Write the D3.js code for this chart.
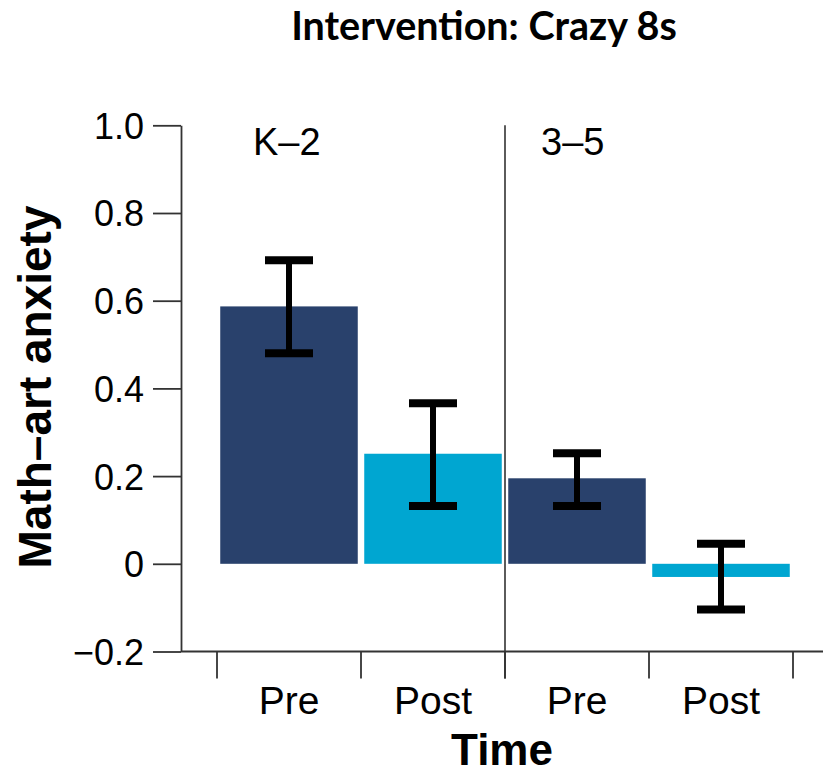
<!DOCTYPE html>
<html>
<head>
<meta charset="utf-8">
<script src="https://cdn.jsdelivr.net/npm/d3@7"></script>
<style>
  body { margin: 0; background: #fff; }
  svg text { font-family: "Liberation Sans", Arial, sans-serif; }
</style>
</head>
<body>
<div id="chart"></div>
<script>
// data
const groups = ["K\u20132", "3\u20135"];
const times = ["Pre", "Post", "Pre", "Post"];
const means = [0.587, 0.251, 0.195, -0.03];
const errLow = [0.480, 0.132, 0.132, -0.104];
const errHigh = [0.692, 0.366, 0.252, 0.046];
const yTicks = [-0.2, 0, 0.2, 0.4, 0.6, 0.8, 1.0];
const barColors = ["#29416c", "#00a6d1", "#29416c", "#00a6d1"];

const width = 827, height = 774;
const svg = d3.select("#chart").append("svg")
    .attr("width", width).attr("height", height);

const y = d3.scaleLinear().domain([-0.2, 1.0]).range([651.5, 125.3]);
const x = d3.scaleBand()
    .domain(d3.range(means.length))
    .range([217, 793])
    .paddingInner(0.045)
    .paddingOuter(0.0225);
const step = x.step();
const edge = i => 217 + i * step;   // boundaries between the bars

// title
svg.append("text")
    .attr("x", 484).attr("y", 40)
    .attr("text-anchor", "middle")
    .style("font-family", "Lato, 'Open Sans', sans-serif")
    .style("font-weight", "bold")
    .style("font-size", "39.5px")
    .text("Intervention: Crazy 8s");

// y axis
const yAxis = d3.axisLeft(y)
    .tickValues(yTicks)
    .tickSize(28)
    .tickSizeOuter(0)
    .tickPadding(9)
    .tickFormat(d => d === 0 ? "0" : d3.format(".1f")(d));
const gy = svg.append("g").attr("transform", "translate(181,0)").call(yAxis);
gy.select(".domain").attr("stroke", "#333").attr("stroke-width", 1.8);
gy.selectAll(".tick line").attr("stroke", "#333").attr("stroke-width", 1.8);
gy.selectAll(".tick text")
    .style("font-size", "36px")
    .attr("fill", "#000")
    .attr("dy", "0.36em");

// x axis baseline and boundary ticks
svg.append("line")
    .attr("x1", 181).attr("x2", 823)
    .attr("y1", y(-0.2)).attr("y2", y(-0.2))
    .attr("stroke", "#333").attr("stroke-width", 1.8);
svg.selectAll(".xtick")
    .data(d3.range(means.length + 1))
    .enter().append("line")
    .attr("class", "xtick")
    .attr("x1", d => edge(d)).attr("x2", d => edge(d))
    .attr("y1", y(-0.2)).attr("y2", y(-0.2) + 27)
    .attr("stroke", "#333").attr("stroke-width", 1.8);

// separator between groups
svg.append("line")
    .attr("x1", edge(2)).attr("x2", edge(2))
    .attr("y1", y(1.0)).attr("y2", y(-0.2) + 27)
    .attr("stroke", "#333").attr("stroke-width", 1.6);

// bars
svg.selectAll(".bar")
    .data(means)
    .enter().append("rect")
    .attr("class", "bar")
    .attr("x", (d, i) => x(i))
    .attr("width", x.bandwidth())
    .attr("y", d => y(Math.max(0, d)))
    .attr("height", d => Math.abs(y(d) - y(0)))
    .attr("fill", (d, i) => barColors[i]);

// error bars
const eb = svg.selectAll(".err")
    .data(means)
    .enter().append("g")
    .attr("class", "err");
const cx = i => x(i) + x.bandwidth() / 2;
eb.append("line")
    .attr("x1", (d, i) => cx(i)).attr("x2", (d, i) => cx(i))
    .attr("y1", (d, i) => y(errHigh[i])).attr("y2", (d, i) => y(errLow[i]))
    .attr("stroke", "#000").attr("stroke-width", 6);
eb.append("line")
    .attr("x1", (d, i) => cx(i) - 24).attr("x2", (d, i) => cx(i) + 24)
    .attr("y1", (d, i) => y(errHigh[i])).attr("y2", (d, i) => y(errHigh[i]))
    .attr("stroke", "#000").attr("stroke-width", 8);
eb.append("line")
    .attr("x1", (d, i) => cx(i) - 24).attr("x2", (d, i) => cx(i) + 24)
    .attr("y1", (d, i) => y(errLow[i])).attr("y2", (d, i) => y(errLow[i]))
    .attr("stroke", "#000").attr("stroke-width", 8);

// group labels
svg.selectAll(".grp")
    .data(groups)
    .enter().append("text")
    .attr("class", "grp")
    .attr("x", (d, i) => edge(i * 2) + 36)
    .attr("y", 155)
    .style("font-size", "38px")
    .text(d => d);

// time labels
svg.selectAll(".time")
    .data(times)
    .enter().append("text")
    .attr("class", "time")
    .attr("x", (d, i) => cx(i))
    .attr("y", 714)
    .attr("text-anchor", "middle")
    .style("font-size", "39px")
    .text(d => d);

// axis titles
svg.append("text")
    .attr("x", 502).attr("y", 765)
    .attr("text-anchor", "middle")
    .style("font-weight", "bold")
    .style("font-size", "44px")
    .text("Time");

svg.append("text")
    .attr("transform", "translate(51,387) rotate(-90)")
    .attr("text-anchor", "middle")
    .style("font-weight", "bold")
    .style("font-size", "46px")
    .text("Math\u2013art anxiety");
</script>
</body>
</html>
